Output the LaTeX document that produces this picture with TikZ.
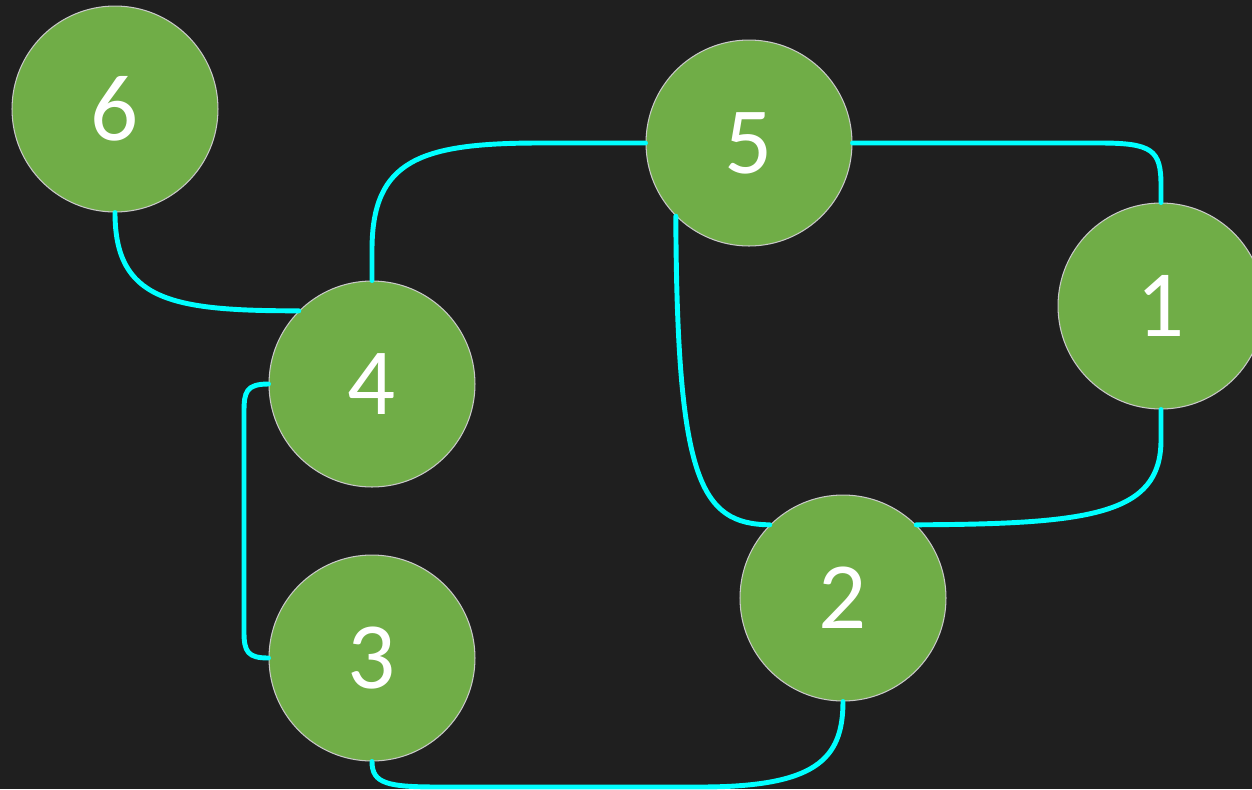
\documentclass[tikz,border=0pt]{standalone}
\usepackage{fontspec}
\setmainfont{Carlito}
\definecolor{bgdark}{HTML}{1F1F1F}
\definecolor{nodegreen}{HTML}{70AD47}
\definecolor{rimgrey}{HTML}{C8C8C8}
\definecolor{linkcyan}{HTML}{00FFFF}
\tikzset{
  vertex/.style={circle, fill=nodegreen, draw=rimgrey, line width=0.6pt,
    minimum size=4.12cm, inner sep=0pt, text=white,
    font=\fontsize{54}{54}\selectfont},
  link/.style={draw=linkcyan, line width=2.8pt, line cap=round}
}
\begin{document}
\begin{tikzpicture}[x=0.02cm, y=-0.02cm]
  \useasboundingbox (0,0) rectangle (1252,789);
  \fill[bgdark] (0,0) rectangle (1252,789);
  \clip (0,0) rectangle (1252,789);

  % vertices
  \node[vertex] (n6) at (115,109) {6};
  \node[vertex] (n5) at (749,143) {5};
  \node[vertex] (n1) at (1161,306) {1};
  \node[vertex] (n4) at (372,384) {4};
  \node[vertex] (n3) at (372,658) {3};
  \node[vertex] (n2) at (843,598) {2};

  % edges
  \draw[link] (n6.south) .. controls (115,300) and (170,311) .. (n4.135);
  \draw[link] (n4.north) -- (372,250) .. controls (372,160) and (420,143) .. (540,143) -- (n5.west);
  \draw[link] (n5.east) -- (1100,143) .. controls (1152,143) and (1161,150) .. (1161,185) -- (n1.north);
  \draw[link] (n5.225) .. controls (677,480) and (700,524) .. (n2.135);
  \draw[link] (n1.south) -- (1161,440) .. controls (1161,515) and (1090,524) .. (n2.45);
  \draw[link] (n4.west) .. controls (246,384) and (244,392) .. (244,412) -- (244,632)
    .. controls (244,652) and (248,658) .. (n3.west);
  \draw[link] (n3.south) .. controls (372,784) and (388,787) .. (440,787) -- (700,787)
    .. controls (815,787) and (843,760) .. (n2.south);
\end{tikzpicture}
\end{document}
